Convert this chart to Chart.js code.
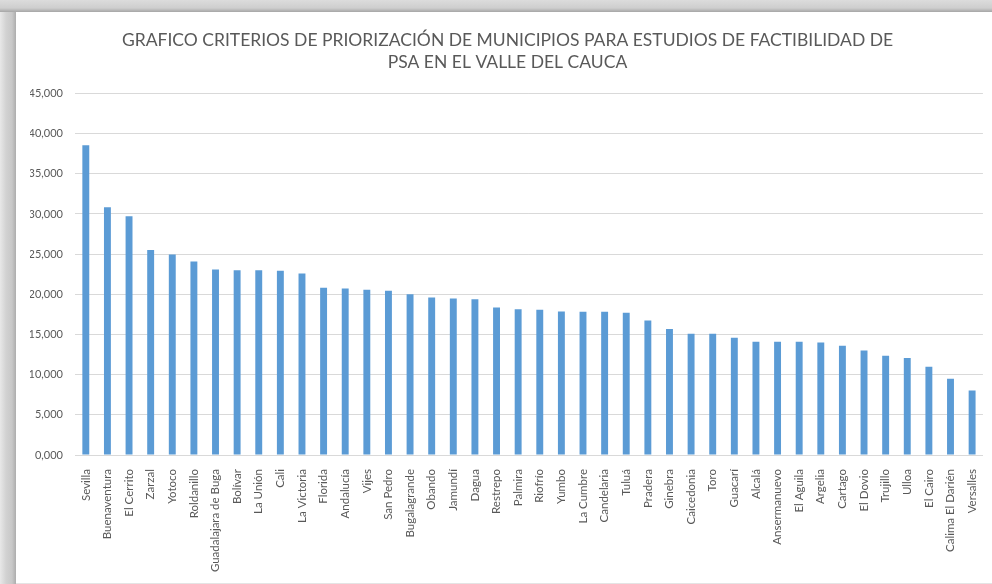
<!DOCTYPE html>
<html>
<head>
<meta charset="utf-8">
<script src="https://cdn.jsdelivr.net/npm/chart.js@4"></script>
<style>
  html, body { margin: 0; padding: 0; }
  body {
    width: 992px; height: 584px; overflow: hidden;
    background: linear-gradient(to right, #e8e8e8 0px, #d2d2d2 6px, #c8c8c8 12px, #adadad 16px);
    position: relative;
  }
  #topband {
    position: absolute; left: 0; top: 0; width: 992px; height: 12px;
    background: linear-gradient(to bottom, #dcdcdc 0px, #cecece 8px, #a6a6a6 12px);
  }
  #panel {
    position: absolute; left: 16px; top: 12px; width: 976px; height: 571px;
    background: #ffffff;
    border-bottom: 1px solid #e4e4e4;
  }
</style>
</head>
<body>
<div id="topband"></div>
<div id="panel"><canvas id="grafico" width="976" height="571"></canvas></div>
<script>
// Municipios (orden del grafico)
const municipios = [
  "Sevilla", "Buenaventura", "El Cerrito", "Zarzal", "Yotoco", "Roldanillo",
  "Guadalajara de Buga", "Bolívar", "La Unión", "Cali", "La Victoria", "Florida",
  "Andalucía", "Vijes", "San Pedro", "Bugalagrande", "Obando", "Jamundí", "Dagua",
  "Restrepo", "Palmira", "Riofrío", "Yumbo", "La Cumbre", "Candelaria", "Tuluá",
  "Pradera", "Ginebra", "Caicedonia", "Toro", "Guacarí", "Alcalá", "Ansermanuevo",
  "El Aguila", "Argelia", "Cartago", "El Dovio", "Trujillo", "Ulloa", "El Cairo",
  "Calima El Darién", "Versalles"
];

// Puntaje de priorizacion
const puntajes = [
  38.54, 30.83, 29.71, 25.53, 24.95, 24.08,
  23.08, 23.00, 23.00, 22.92, 22.59, 20.81,
  20.72, 20.56, 20.43, 20.02, 19.60, 19.48, 19.39,
  18.36, 18.15, 18.07, 17.86, 17.82, 17.82, 17.70,
  16.75, 15.67, 15.09, 15.09, 14.59, 14.10, 14.10,
  14.10, 14.01, 13.60, 13.02, 12.35, 12.06, 10.99,
  9.50, 8.04
];

// Eje Y
const ejeMax = 45;
const ejePaso = 5;

const titulo = [
  "GRAFICO CRITERIOS DE PRIORIZACIÓN DE MUNICIPIOS PARA ESTUDIOS DE FACTIBILIDAD DE",
  "PSA EN EL VALLE DEL CAUCA"
];

const ctx = document.getElementById("grafico").getContext("2d");
new Chart(ctx, {
  type: "bar",
  data: {
    labels: municipios,
    datasets: [
      {
        label: "Puntaje",
        data: puntajes,
        backgroundColor: "#5b9bd5",
        barPercentage: 0.32,
        categoryPercentage: 1,
      },
    ],
  },
  options: {
    responsive: false,
    animation: false,
    layout: { padding: { left: 14, right: 7, top: 0, bottom: 0 } },
    plugins: {
      legend: { display: false },
      tooltip: { enabled: false },
      title: {
        display: true,
        text: titulo,
        color: "#595959",
        font: { family: "Lato", size: 17.5, weight: "normal", lineHeight: 1.27 },
        padding: { top: 17, bottom: 20 },
      },
    },
    scales: {
      y: {
        min: 0,
        max: ejeMax,
        afterFit: (scale) => { scale.width = 45; },
        ticks: {
          stepSize: ejePaso,
          padding: 12,
          color: "#595959",
          font: { family: "Lato", size: 11 },
          callback: (v) => v.toFixed(3).replace(".", ","),
        },
        grid: { color: "#d9d9d9", drawTicks: false },
        border: { display: false },
      },
      x: {
        afterFit: (scale) => { scale.height = 128; },
        ticks: {
          autoSkip: false,
          maxRotation: 90,
          minRotation: 90,
          padding: 6,
          color: "#595959",
          font: { family: "Lato", size: 11.5 },
        },
        grid: { display: false },
        border: { color: "#d9d9d9" },
      },
    },
  },
});
</script>
</body>
</html>
